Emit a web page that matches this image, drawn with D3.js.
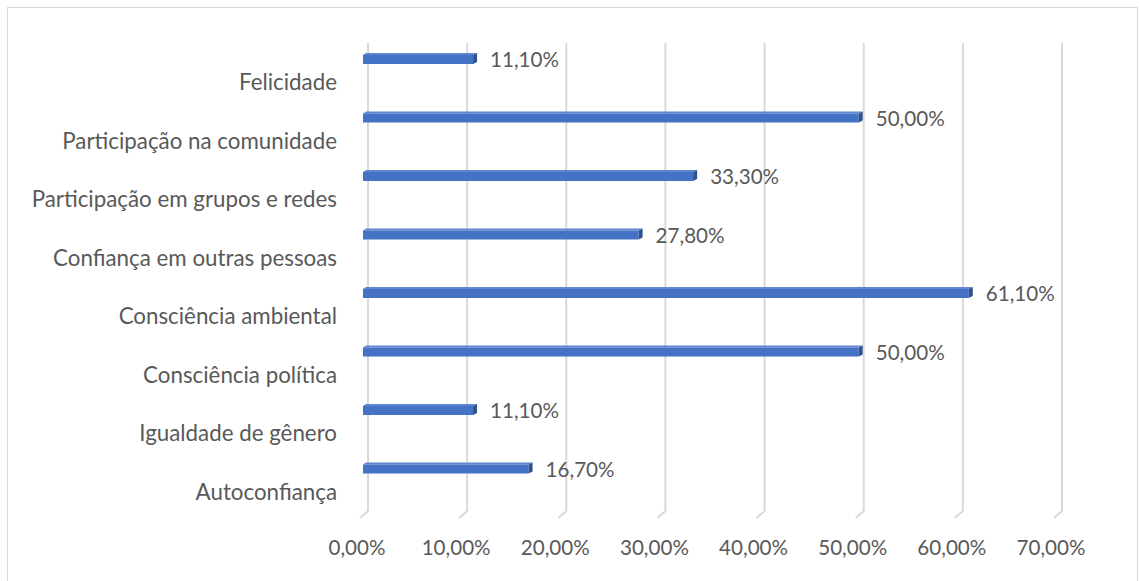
<!DOCTYPE html>
<html><head><meta charset="utf-8">
<script src="https://cdn.jsdelivr.net/npm/d3@7"></script>
<style>body{margin:0;background:#fff}svg{display:block}</style>
</head><body>
<svg id="c" width="1139" height="581"></svg>
<script>
const categories = ["Autoconfiança","Igualdade de gênero","Consciência política","Consciência ambiental","Confiança em outras pessoas","Participação em grupos e redes","Participação na comunidade","Felicidade"];
const values = [16.7, 11.1, 50.0, 61.1, 27.8, 33.3, 50.0, 11.1];
const ticks = [0,10,20,30,40,50,60,70];
const fmt = v => v.toFixed(2).replace(".", ",") + "%";

const W = 1139, H = 581;
const svg = d3.select("#c");
const FONT = "Lato, 'Open Sans', sans-serif";
const dx = 8, dy = 7; // 3D depth offset (back -> front)

svg.append("rect").attr("x",7.5).attr("y",7.5).attr("width",W-9).attr("height",H)
  .attr("fill","none").attr("stroke","#D9D9D9").attr("stroke-width",1);

const xBack = d3.scaleLinear().domain([0,70]).range([368,1062]);
const yTop = 43, yBot = 511;
const yFront = d3.scaleBand().domain(categories.slice().reverse()).range([yTop+dy, yBot+dy]).padding(0);

const g = svg.append("g");
ticks.forEach(t => {
  const x = xBack(t);
  g.append("path").attr("d", `M${x},${yTop} L${x},${yBot} L${x-dx},${yBot+dy}`)
    .attr("fill","none").attr("stroke","#D9D9D9").attr("stroke-width",2);
});

const bars = svg.append("g");
categories.forEach((c,i) => {
  const v = values[i];
  const b = yFront(c);
  const x0 = xBack(0) - 5, xr = xBack(v) - 5;
  const t = b + 5, bt = b + 14;
  bars.append("path").attr("d", `M${x0},${t} L${x0+3},${t-2} L${xr+4},${t-2} L${xr},${t} Z`).attr("fill","#5F86CF");
  bars.append("rect").attr("x",x0).attr("y",t).attr("width",xr-x0).attr("height",bt-t).attr("fill","#4472C4");
  bars.append("path").attr("d", `M${xr},${t} L${xr+4},${t-2} L${xr+4},${bt-2} L${xr},${bt} Z`).attr("fill","#2F528F");
  svg.append("text").attr("class","lbl num").attr("x", xBack(v)+12).attr("y", b+10).attr("dy","0.35em")
    .text(fmt(v));
  svg.append("text").attr("class","lbl cat").attr("x",337).attr("y", b + yFront.bandwidth()/2 + 3).attr("dy","0.35em")
    .attr("text-anchor","end").text(c);
});

ticks.forEach(t => {
  svg.append("text").attr("class","lbl num").attr("x", xBack(t)-dx-3).attr("y",548).attr("dy","0.35em")
    .attr("text-anchor","middle").text(fmt(t));
});

const lbls = svg.selectAll("text.lbl").attr("font-family",FONT).attr("fill","#595959").attr("font-size",18);
const cats = svg.selectAll("text.cat"), nums = svg.selectAll("text.num");
const refC = cats.filter(function(){return this.textContent==="Participação na comunidade";}).node();
cats.attr("font-size", 18*275/refC.getComputedTextLength());
const refN = nums.filter(function(){return this.textContent==="61,10%";}).node();
nums.attr("font-size", 18*69/refN.getComputedTextLength());
</script>
</body></html>
